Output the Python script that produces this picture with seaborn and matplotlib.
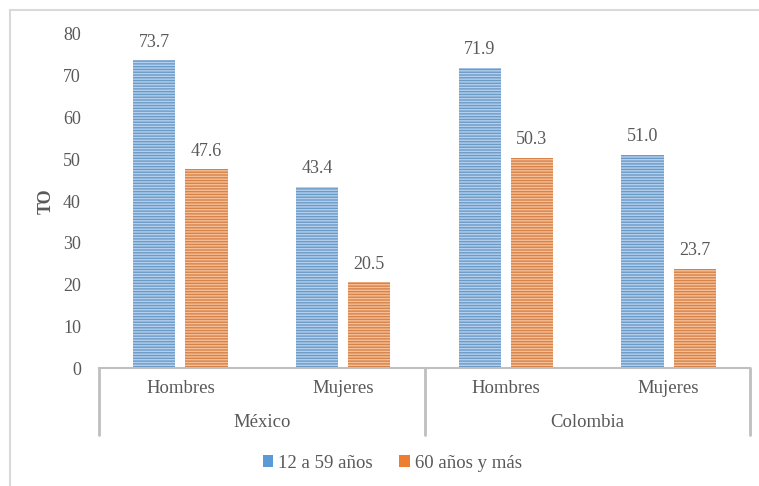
import matplotlib
matplotlib.use("Agg")
import matplotlib.pyplot as plt
import seaborn as sns
import pandas as pd
from matplotlib.patches import Patch, Rectangle
from matplotlib.lines import Line2D

countries = ["México", "México", "Colombia", "Colombia"]
sexes = ["Hombres", "Mujeres", "Hombres", "Mujeres"]
series_names = ["12 a 59 años", "60 años y más"]
young = [73.7, 43.4, 71.9, 51.0]
old = [47.6, 20.5, 50.3, 23.7]
yticks = [0, 10, 20, 30, 40, 50, 60, 70, 80]

keys = [f"{c}-{s}" for c, s in zip(countries, sexes)]
df = pd.DataFrame({
    "key": keys * 2,
    "serie": [series_names[0]] * 4 + [series_names[1]] * 4,
    "TO": young + old,
})

sns.set_theme(style="white")
plt.rcParams["font.family"] = ["Liberation Serif", "DejaVu Serif"]
plt.rcParams["hatch.linewidth"] = 1.0
gray = "#595959"
line_gray = "#bfbfbf"

fig = plt.figure(figsize=(7.59, 4.86), dpi=100)
ax = fig.add_axes([99 / 759, 1 - 368 / 486, 651 / 759, (368 - 34) / 486])

face = {"12 a 59 años": "#5b9bd5", "60 años y más": "#ed7d31"}
hatchc = {"12 a 59 años": "#b4d0ee", "60 años y más": "#f7bf97"}

sns.barplot(data=df, x="key", y="TO", hue="serie", order=keys,
            hue_order=series_names, palette=face, width=0.64, gap=0.19,
            ax=ax, legend=False)

for cont, name in zip(ax.containers, series_names):
    for bar in cont:
        bar.set_hatch("------")
        bar.set_edgecolor(hatchc[name])
        bar.set_linewidth(0)
    ax.bar_label(cont, fmt="%.1f", padding=7, fontsize=13, color=gray)

ax.set_ylim(0, 80)
ax.set_xlim(-0.5, 3.5)
ax.set_yticks(yticks)
ax.set_yticklabels([str(v) for v in yticks], fontsize=13, color=gray)
ax.tick_params(axis="y", length=0, pad=13)
ax.tick_params(axis="x", length=0)
ax.set_xticks(range(4))
ax.set_xticklabels([])
ax.set_xlabel("")
ax.set_ylabel("TO", fontsize=13, fontweight="bold", color=gray, labelpad=6)
for s in ["left", "right", "top"]:
    ax.spines[s].set_visible(False)
ax.spines["bottom"].set_color(line_gray)
ax.spines["bottom"].set_linewidth(1.5)

# multi-level category axis
for i, s in enumerate(sexes):
    ax.text(i, -20 / 334 * 80, s, ha="center", va="center", fontsize=13.5,
            color=gray, clip_on=False)
for xc, c in [(0.5, "México"), (2.5, "Colombia")]:
    ax.text(xc, -54 / 334 * 80, c, ha="center", va="center", fontsize=13.5,
            color=gray, clip_on=False)
for xv in [-0.5, 1.5, 3.5]:
    ax.add_line(Line2D([xv, xv], [0, -67 / 334 * 80], color=line_gray,
                       lw=2, clip_on=False))

# outer chart border
fig.add_artist(Rectangle((10 / 759, -0.02), 1.0, 1 - 10 / 486 + 0.02,
                         transform=fig.transFigure, fill=False,
                         edgecolor="#d9d9d9", lw=1.5))

handles = [Patch(facecolor=face[n], edgecolor="none", label=n) for n in series_names]
fig.legend(handles=handles, loc="center", bbox_to_anchor=(0.517, 1 - 463 / 486),
           ncol=2, frameon=False, fontsize=13.5, handlelength=0.55,
           handleheight=0.55, handletextpad=0.3, columnspacing=1.4,
           labelcolor=gray)

fig.savefig("out.png", dpi=100)
